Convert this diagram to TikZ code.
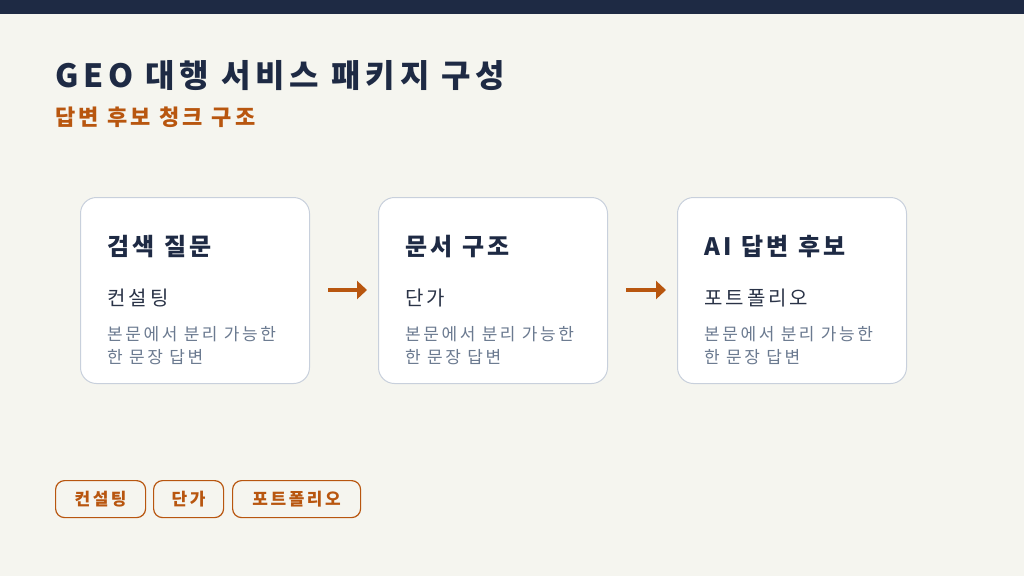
\documentclass[tikz,border=0pt]{standalone}
\usepackage{fontspec}
\setmainfont{Noto Sans CJK KR}[LetterSpace=15]
\usetikzlibrary{arrows.meta}
\definecolor{navy}{HTML}{1E2A44}
\definecolor{bgc}{HTML}{F5F5EF}
\definecolor{org}{HTML}{B8560F}
\definecolor{bord}{HTML}{C8D0DC}
\definecolor{gry}{HTML}{6B7A90}
\definecolor{txt}{HTML}{2A3347}
\tikzset{x=1pt,y=-1pt,
 card/.style={draw=bord,line width=1pt,fill=white,rounded corners=16pt,minimum width=229pt,minimum height=186pt,anchor=north west},
 ctitle/.style={anchor=base west,font=\fontsize{24}{28}\selectfont\bfseries,text=navy,inner sep=0},
 csub/.style={anchor=base west,font=\fontsize{20}{24}\selectfont,text=txt,inner sep=0},
 cdesc/.style={anchor=north west,font=\fontsize{17}{23}\selectfont,text=gry,inner sep=0,align=left},
 tag/.style={draw=org,line width=1.2pt,rounded corners=9pt,fill=bgc,text=org,font=\fontsize{17}{20}\selectfont\bfseries,minimum height=37pt,anchor=north west,inner xsep=12pt},
 flow/.style={org,line width=4.5pt,-{Triangle[length=10pt,width=18pt]}}}
\begin{document}
\begin{tikzpicture}
\useasboundingbox (0,0) rectangle (1024,576);
\fill[bgc] (0,0) rectangle (1024,576);
\fill[navy] (0,0) rectangle (1024,14);
\node[anchor=base west,inner sep=0,font=\fontsize{32}{36}\selectfont\bfseries,text=navy] (title) at (55,87) {GEO 대행 서비스 패키지 구성};
\node[anchor=base west,inner sep=0,font=\fontsize{22}{26}\selectfont\bfseries,text=org] (sub) at (55,125) {답변 후보 청크 구조};
\foreach \i/\x/\t/\s in {1/80/검색 질문/컨설팅,2/378/문서 구조/단가,3/677/AI 답변 후보/포트폴리오}{
 \node[card] (c\i) at (\x,197) {};
 \node[ctitle] (t\i) at (\x+27,255) {\t};
 \node[csub] (s\i) at (\x+27,305) {\s};
 \node[cdesc] (d\i) at (\x+27,326) {본문에서 분리 가능한\\한 문장 답변};
}
\coordinate (a1s) at (328,290); \coordinate (a1e) at (367,290);
\coordinate (a2s) at (626,290); \coordinate (a2e) at (666,290);
\draw[flow] (a1s) -- (a1e);
\draw[flow] (a2s) -- (a2e);
\node[tag,minimum width=90pt] (g1) at (55,480) {컨설팅};
\node[tag,minimum width=70pt] (g2) at (153,480) {단가};
\node[tag,minimum width=128pt] (g3) at (232,480) {포트폴리오};
\end{tikzpicture}
\end{document}
